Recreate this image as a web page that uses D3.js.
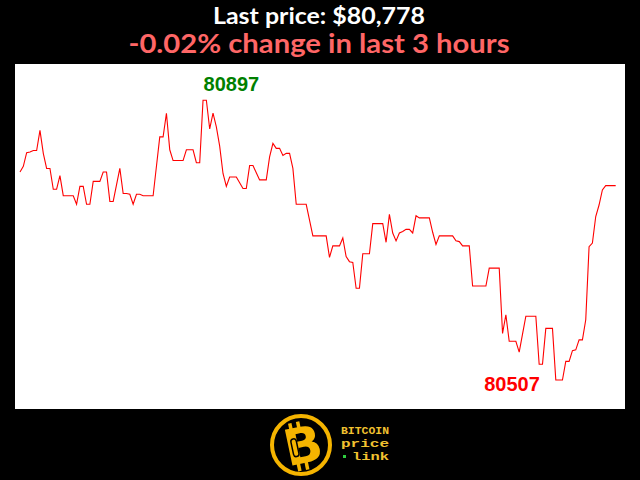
<!DOCTYPE html>
<html>
<head>
<meta charset="utf-8">
<script src="https://cdn.jsdelivr.net/npm/d3@7/dist/d3.min.js"></script>
<style>
  html, body { margin: 0; padding: 0; background: #000; }
  svg { display: block; }
</style>
</head>
<body>
<svg id="chart" width="640" height="480"></svg>
<script>
// ---- data (one value per minute, last 3 hours) ----
const prices = [
  80797, 80805, 80824, 80825, 80827, 80827, 80855, 80823, 80802, 80802,
  80773, 80773, 80792, 80764, 80764, 80764, 80764, 80752, 80777, 80777,
  80752, 80752, 80784, 80784, 80784, 80797, 80797, 80756, 80756, 80779,
  80802, 80767, 80767, 80766, 80752, 80766, 80766, 80764, 80764, 80764,
  80764, 80805, 80846, 80846, 80879, 80828, 80813, 80813, 80813, 80813,
  80828, 80828, 80828, 80810, 80810, 80897, 80897, 80857, 80879, 80860,
  80833, 80795, 80777, 80790, 80790, 80790, 80782, 80774, 80774, 80806,
  80806, 80796, 80786, 80786, 80786, 80818, 80837, 80830, 80830, 80820,
  80823, 80823, 80802, 80752, 80752, 80752, 80752, 80730, 80708, 80708,
  80708, 80708, 80708, 80678, 80694, 80694, 80694, 80705, 80679, 80672,
  80671, 80635, 80635, 80683, 80683, 80683, 80725, 80725, 80725, 80725,
  80699, 80738, 80712, 80701, 80712, 80714, 80717, 80717, 80712, 80736,
  80733, 80733, 80733, 80733, 80713, 80696, 80708, 80708, 80708, 80708,
  80708, 80701, 80700, 80694, 80694, 80694, 80638, 80638, 80638, 80638,
  80638, 80663, 80663, 80663, 80663, 80572, 80598, 80561, 80561, 80561,
  80546, 80571, 80596, 80596, 80596, 80596, 80529, 80529, 80579, 80579,
  80579, 80507, 80507, 80507, 80533, 80533, 80548, 80549, 80563, 80563,
  80591, 80693, 80698, 80735, 80751, 80772, 80778, 80778, 80778, 80778
];
const titleText = "Last price: $80,778";
const subtitleText = "-0.02% change in last 3 hours";
const logoLines = ["BITCOIN", "price", "link"];

// ---- layout ----
const W = 640, H = 480;
const plot = { x: 15, y: 64, w: 610, h: 345 };
const padTop = 50.6, padBottom = 40.4;

const svg = d3.select("#chart");
svg.append("rect").attr("width", W).attr("height", H).attr("fill", "#000");

// titles
svg.append("text").attr("x", 319).attr("y", 23.5)
  .attr("text-anchor", "middle")
  .attr("font-family", "Lato, 'Open Sans', sans-serif").attr("font-weight", "bold")
  .attr("font-size", 23).attr("textLength", 212).attr("lengthAdjust", "spacingAndGlyphs")
  .attr("fill", "#ffffff").text(titleText);
svg.append("text").attr("x", 319).attr("y", 52.5)
  .attr("text-anchor", "middle")
  .attr("font-family", "Lato, 'Open Sans', sans-serif").attr("font-weight", "bold")
  .attr("font-size", 26).attr("textLength", 381).attr("lengthAdjust", "spacingAndGlyphs")
  .attr("fill", "#ff6666").text(subtitleText);

// plot background
svg.append("rect").attr("x", plot.x).attr("y", plot.y)
  .attr("width", plot.w).attr("height", plot.h).attr("fill", "#ffffff");

const minV = d3.min(prices), maxV = d3.max(prices);
const iMin = prices.indexOf(minV), iMax = prices.indexOf(maxV);

const x = d3.scaleLinear().domain([0, prices.length - 1]).range([20, 615.7]);
const y = d3.scaleLinear().domain([minV - padBottom, maxV + padTop])
  .range([plot.y + plot.h, plot.y]);

const line = d3.line().x((d, i) => x(i)).y(d => y(d));
svg.append("path").datum(prices)
  .attr("d", line).attr("fill", "none")
  .attr("stroke", "#ff0000").attr("stroke-width", 1.1)
  .attr("stroke-linejoin", "miter");

svg.append("text").attr("x", x(iMax) + 0.5).attr("y", y(maxV) - 9.5)
  .attr("font-family", "'Liberation Sans', Arial, sans-serif").attr("font-weight", "bold")
  .attr("font-size", 20).attr("fill", "#008000").text(String(maxV));
svg.append("text").attr("x", x(iMin) - 16).attr("y", y(minV) + 10.5)
  .attr("text-anchor", "end")
  .attr("font-family", "'Liberation Sans', Arial, sans-serif").attr("font-weight", "bold")
  .attr("font-size", 20).attr("fill", "#ff0000").text(String(minV));

// ---- logo ----
const gold = "#f5b400";
const logo = svg.append("g");
logo.append("circle").attr("cx", 301).attr("cy", 445).attr("r", 29)
  .attr("fill", "#000").attr("stroke", gold).attr("stroke-width", 4);
const bg = logo.append("g").attr("transform", "translate(303,446) rotate(-12)");
bg.append("rect").attr("x", -10).attr("y", -25).attr("width", 3.5).attr("height", 8).attr("fill", gold);
bg.append("rect").attr("x", -2).attr("y", -25).attr("width", 3.5).attr("height", 8).attr("fill", gold);
bg.append("rect").attr("x", -10).attr("y", 16).attr("width", 3.5).attr("height", 8).attr("fill", gold);
bg.append("rect").attr("x", -2).attr("y", 16).attr("width", 3.5).attr("height", 8).attr("fill", gold);
bg.append("text").attr("x", 0).attr("y", 17).attr("text-anchor", "middle")
  .attr("font-family", "'DejaVu Sans', sans-serif").attr("font-weight", "bold")
  .attr("font-size", 50).attr("fill", gold).text("B");
bg.append("rect").attr("x", -11).attr("y", -9).attr("width", 5.5).attr("height", 18)
  .attr("rx", 2.7).attr("fill", "none").attr("stroke", "#000").attr("stroke-width", 1.5);

const ty = [433.5, 446.5, 460];
logoLines.forEach((t, k) => {
  logo.append("text").attr("x", k === 2 ? 352 : 341).attr("y", ty[k])
    .attr("font-family", "'Liberation Mono', 'DejaVu Sans Mono', monospace")
    .attr("font-weight", "bold").attr("font-size", 11.5)
    .attr("textLength", k === 2 ? 37 : 48).attr("lengthAdjust", "spacingAndGlyphs")
    .attr("fill", "#f2c230").text(t);
});
logo.append("rect").attr("x", 343).attr("y", 455).attr("width", 3).attr("height", 3).attr("fill", "#2ecc40");
</script>
</body>
</html>
